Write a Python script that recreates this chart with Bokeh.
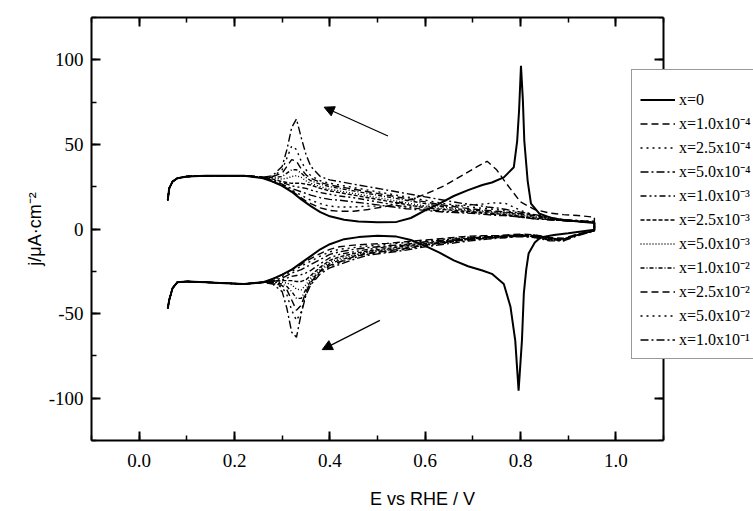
from bokeh.plotting import figure
from bokeh.models import (LinearAxis, Range1d, Legend, LegendItem, Arrow, NormalHead,
                          SingleIntervalTicker, NumeralTickFormatter, PrintfTickFormatter)
from bokeh.embed import file_html
from bokeh.resources import INLINE

# ---------------- data ----------------
labels = ["x=0", "x=1.0x10⁻⁴", "x=2.5x10⁻⁴", "x=5.0x10⁻⁴", "x=1.0x10⁻³", "x=2.5x10⁻³",
          "x=5.0x10⁻³", "x=1.0x10⁻²", "x=2.5x10⁻²", "x=5.0x10⁻²", "x=1.0x10⁻¹"]

# x = 0 curve (own potential grid, anodic and cathodic branches)
E0_up = [0.06, 0.063, 0.07, 0.08, 0.10, 0.14, 0.18, 0.22, 0.26, 0.28, 0.30, 0.32, 0.34, 0.36,
         0.38, 0.40, 0.43, 0.46, 0.50, 0.54, 0.57, 0.60, 0.63, 0.66, 0.69, 0.72, 0.74, 0.765,
         0.786, 0.793, 0.797, 0.801, 0.805, 0.808, 0.815, 0.822, 0.84, 0.87, 0.90, 0.955]
j0_up = [17, 24, 28, 30, 31, 31.5, 31.5, 31.5, 30, 28, 25.5, 22, 17.5, 13.5, 10, 7.5, 5.5, 4.5,
         4, 4.2, 6.5, 11, 15, 19.5, 23, 26, 27.5, 30.5, 36.5, 52, 70, 96.5, 76, 52, 28.5, 15,
         9, 6, 5, 3.5]
E0_dn = [0.06, 0.063, 0.07, 0.08, 0.10, 0.14, 0.18, 0.22, 0.26, 0.28, 0.30, 0.32, 0.34, 0.36,
         0.38, 0.40, 0.43, 0.46, 0.50, 0.54, 0.57, 0.60, 0.63, 0.66, 0.69, 0.72, 0.74, 0.765,
         0.779, 0.789, 0.796, 0.803, 0.807, 0.812, 0.817, 0.83, 0.842, 0.87, 0.90, 0.955]
j0_dn = [-47, -42, -35, -31.5, -31, -31.5, -32, -32.5, -31.5, -29.5, -27, -24, -20, -16, -12,
         -9, -6, -4.8, -4, -4.5, -6.5, -10, -14, -18.5, -22, -24.5, -26.5, -32.5, -46, -66,
         -95.5, -66, -38, -24, -14.5, -8, -5, -3.5, -2.5, -0.5]

# shared potential grid for the doped curves
E = [0.06, 0.063, 0.07, 0.08, 0.10, 0.14, 0.18, 0.22, 0.26, 0.28, 0.30, 0.31, 0.32, 0.33,
     0.34, 0.35, 0.36, 0.38, 0.40, 0.42, 0.45, 0.48, 0.52, 0.56, 0.60, 0.64, 0.68, 0.71,
     0.73, 0.75, 0.77, 0.80, 0.83, 0.86, 0.89, 0.92, 0.955]
H_up = [17, 24, 28, 30, 31, 31.5, 31.5, 31.5, 30.5]
H_dn = [-47, -42, -35, -31.5, -31, -31.5, -32, -32.5, -31.5]

j1_up = H_up + [28, 25.5, 24, 22.5, 20.5, 18.5, 16.5, 15, 12.5, 11, 10.5, 10.5, 11.5, 13.5, 16.5, 20.5, 25.5, 32, 37, 40, 35, 27, 16, 11.5, 9.5, 8.5, 8, 7]
j2_up = H_up + [28, 26, 24.5, 23, 21.5, 20, 18.5, 17, 15, 13.5, 13, 13, 13.5, 13.5, 13.5, 13.5, 13.5, 14, 14.5, 15, 15.5, 15, 11, 8, 6.5, 5.5, 5, 4.5]
j3_up = H_up + [28.5, 26.5, 25, 24, 23, 22, 21, 20, 18.5, 17.5, 17, 16, 15, 13.5, 12, 11, 10, 9.5, 9, 8.5, 8, 8, 7, 6, 5.5, 5, 4.5, 4]
j4_up = H_up + [29, 27.5, 26.5, 25.5, 25, 24.5, 24, 23, 21.5, 20.5, 19.5, 18.5, 17, 15, 13, 11.5, 10.5, 10, 9.5, 9, 8.5, 8, 7, 6, 5.5, 5, 4.5, 4]
j5_up = H_up + [29.5, 28, 27.5, 27, 27, 27, 26.5, 26, 24, 22.5, 21.5, 20, 18.5, 16.5, 14.5, 12.5, 11.5, 10.5, 10, 9.5, 9, 8.5, 7.5, 6.5, 5.5, 5, 4.5, 4]
j6_up = H_up + [30, 29.5, 30, 31, 31.5, 30.5, 28.5, 27, 25, 23.5, 22.5, 21, 19.5, 17.5, 15.5, 13.5, 12, 11, 10.5, 10, 9.5, 9, 8, 7, 6, 5, 4.5, 4]
j7_up = H_up + [30.5, 31, 33, 35, 35, 33, 30.5, 28.5, 26.5, 25, 24, 22.5, 21, 19, 17, 15, 13, 11.5, 11, 10.5, 10, 9.5, 8.5, 7.5, 6, 5, 4.5, 4]
j8_up = H_up + [31, 33, 37, 41, 40, 35.5, 32, 30, 27.5, 26, 25, 23.5, 22, 20, 18, 16, 14, 12.5, 11.5, 11, 10.5, 10, 9, 8, 6.5, 5, 4.5, 4]
j9_up = H_up + [31, 35, 42, 49, 47, 40, 35, 31.5, 28.5, 27, 26, 24.5, 23, 21, 19, 17, 15, 13.5, 12.5, 12, 11.5, 10.5, 9.5, 8, 6.5, 5.5, 4.5, 4]
j10_up = H_up + [31.5, 37, 47, 60, 65, 54, 44, 37, 31, 29, 28, 26.5, 25, 23, 21, 19, 17, 15, 14, 13, 12.5, 11.5, 10, 8.5, 7, 5.5, 5, 4.5]

j1_dn = H_dn + [-29.5, -27, -25.5, -24, -22.5, -21, -19, -17.5, -14.5, -12, -10.5, -9.5, -9, -8.5, -7.5, -6.5, -5.5, -4.5, -4, -4, -4, -3.5, -3, -3.5, -5, -5.5, -3, -1]
j2_dn = H_dn + [-30, -28, -26.5, -25, -23.5, -22, -20.5, -19, -16, -13.5, -12, -11, -10, -9, -8, -7, -6, -5, -4.5, -4, -4, -4, -3.5, -3.5, -5, -6, -3, -1]
j3_dn = H_dn + [-30.5, -29, -27.5, -26, -25, -24, -22.5, -21, -18, -15, -13.5, -12, -11, -10, -9, -7.5, -6.5, -5.5, -5, -4.5, -4.5, -4, -3.5, -4, -5.5, -6, -3, -1]
j4_dn = H_dn + [-31, -30, -29, -28, -27.5, -27, -26, -24.5, -20.5, -17, -15, -13.5, -12, -10.5, -9.5, -8, -7, -6, -5, -4.5, -4.5, -4, -3.5, -4, -5.5, -6, -3.5, -1]
j5_dn = H_dn + [-31, -30.5, -30.5, -30.5, -31, -31, -30, -27.5, -22.5, -18.5, -16.5, -14.5, -13, -11.5, -10, -8.5, -7.5, -6, -5.5, -5, -4.5, -4, -3.5, -4, -6, -6, -3.5, -1]
j6_dn = H_dn + [-31.5, -31.5, -32, -33, -35.5, -36, -33, -29, -23.5, -19.5, -17.5, -15.5, -13.5, -12, -10.5, -9, -7.5, -6.5, -5.5, -5, -4.5, -4.5, -4, -4.5, -6, -6.5, -3.5, -1]
j7_dn = H_dn + [-31.5, -32.5, -34, -37, -41, -41, -35.5, -30.5, -24.5, -20.5, -18.5, -16, -14, -12.5, -11, -9.5, -8, -6.5, -5.5, -5, -5, -4.5, -4, -4.5, -6, -6.5, -3.5, -1]
j8_dn = H_dn + [-32, -33.5, -36, -42, -48, -45, -37, -31.5, -25, -21.5, -19.5, -16.5, -14.5, -13, -11.5, -9.5, -8, -6.5, -6, -5.5, -5, -5, -4, -4.5, -6.5, -6.5, -3.5, -1]
j9_dn = H_dn + [-32, -34.5, -39, -48, -54, -49, -38, -32.5, -25.5, -22, -20, -17, -15, -13.5, -12, -10, -8.5, -7, -6, -5.5, -5, -5, -4, -5, -6.5, -7, -3.5, -1]
j10_dn = H_dn + [-32.5, -37, -47, -61, -64, -50, -39, -33, -26.5, -23, -21, -18, -15.5, -14, -12.5, -10.5, -9, -7.5, -6.5, -6, -5.5, -5, -4.5, -5, -7, -7, -4, -1]

x_axis_start, x_axis_end = -0.1, 1.1
y_axis_start, y_axis_end = -125, 125
x_ticks_major = 0.2
y_ticks_major = 50

# ---------------- styles ----------------
dashes = ["solid", "7 4", "2 4", "8 3 2 3", "6 3 2 3 2 3", "4 2", "1 2", "4 2 1 2",
          "7 4", "2 4", "8 3 2 3"]
widths = [2.0] + [1.4] * 10

# frame extends to the page edge so that the legend (which overhangs the right axis) is not clipped;
# the drawn axes are bounded at x = -0.1 ... 1.1
px_per_unit = 572 / (x_axis_end - x_axis_start)
frame_w = 662
x_view_end = x_axis_start + frame_w / px_per_unit

p = figure(frame_width=frame_w, frame_height=423, output_backend="svg", toolbar_location=None,
           x_range=Range1d(x_axis_start, x_view_end), y_range=Range1d(y_axis_start, y_axis_end),
           min_border_left=91, min_border_right=0, min_border_top=17, min_border_bottom=71)
p.grid.visible = False
p.outline_line_color = None
p.background_fill_color = "white"
p.border_fill_color = "white"

curves = [(E0_up, j0_up, E0_dn, j0_dn),
          (E, j1_up, E, j1_dn), (E, j2_up, E, j2_dn), (E, j3_up, E, j3_dn),
          (E, j4_up, E, j4_dn), (E, j5_up, E, j5_dn), (E, j6_up, E, j6_dn),
          (E, j7_up, E, j7_dn), (E, j8_up, E, j8_dn), (E, j9_up, E, j9_dn),
          (E, j10_up, E, j10_dn)]

items = []
for i, (eu, ju, ed, jd) in enumerate(curves):
    xs = list(eu) + list(ed)[::-1]
    ys = list(ju) + list(jd)[::-1]
    r = p.line(xs, ys, line_color="black", line_width=widths[i], line_dash=dashes[i])
    items.append(LegendItem(label=labels[i], renderers=[r]))

# arrows
p.add_layout(Arrow(end=NormalHead(size=10, fill_color="black", line_color="black", line_width=1),
                   x_start=0.522, y_start=55, x_end=0.388, y_end=72,
                   line_color="black", line_width=1.2))
p.add_layout(Arrow(end=NormalHead(size=10, fill_color="black", line_color="black", line_width=1),
                   x_start=0.505, y_start=-54, x_end=0.384, y_end=-71.3,
                   line_color="black", line_width=1.2))

# axes
def style(ax, show):
    ax.axis_line_width = 2
    ax.major_tick_line_width = 2
    ax.minor_tick_line_width = 1.5
    ax.major_tick_in = 9
    ax.major_tick_out = 0
    ax.minor_tick_in = 5
    ax.minor_tick_out = 0
    ax.major_label_text_font = "Liberation Serif"
    ax.major_label_text_color = "black"
    ax.axis_label_text_font = "Liberation Sans"
    ax.axis_label_text_font_style = "normal"
    ax.axis_label_text_color = "black"
    if not show:
        ax.major_label_text_font_size = "1px"
        ax.major_label_standoff = 0

xa = p.xaxis[0]
xa.ticker = SingleIntervalTicker(interval=x_ticks_major, num_minor_ticks=2)
xa.formatter = NumeralTickFormatter(format="0.0")
xa.bounds = (x_axis_start, x_axis_end)
style(xa, True)
xa.major_label_text_font_size = "19px"
xa.major_label_standoff = 13
xa.axis_label = "E vs RHE / V"
xa.axis_label_text_font_size = "18px"
xa.axis_label_standoff = 19

ya = p.yaxis[0]
ya.ticker = SingleIntervalTicker(interval=y_ticks_major, num_minor_ticks=2)
ya.formatter = PrintfTickFormatter(format="%d")
style(ya, True)
ya.major_label_text_font_size = "19px"
ya.major_label_standoff = 8
ya.axis_label = "j/μA·cm⁻²"
ya.axis_label_text_font_size = "18px"
ya.axis_label_standoff = 1

top = LinearAxis(ticker=SingleIntervalTicker(interval=x_ticks_major, num_minor_ticks=2),
                 bounds=(x_axis_start, x_axis_end))
style(top, False)
top.major_label_overrides = {round(-0.2 + 0.2 * k, 1): "" for k in range(9)}
p.add_layout(top, "above")

right = LinearAxis(ticker=SingleIntervalTicker(interval=y_ticks_major, num_minor_ticks=2),
                   fixed_location=x_axis_end)
style(right, False)
right.major_label_overrides = {v: "" for v in (-150, -100, -50, 0, 50, 100, 150)}
p.add_layout(right, "right")

legend = Legend(items=items, location=(540, 81), title=" ",
                title_text_font_size="8px", title_standoff=2,
                label_text_font="Liberation Serif", label_text_font_size="16px",
                label_text_color="black",
                glyph_width=35, glyph_height=21, label_height=21, spacing=2,
                padding=8, margin=0, label_standoff=4,
                border_line_color="#333333", border_line_width=1,
                background_fill_color="white", background_fill_alpha=1.0)
p.add_layout(legend, "center")

open("out.html", "w").write(file_html(p, INLINE))
